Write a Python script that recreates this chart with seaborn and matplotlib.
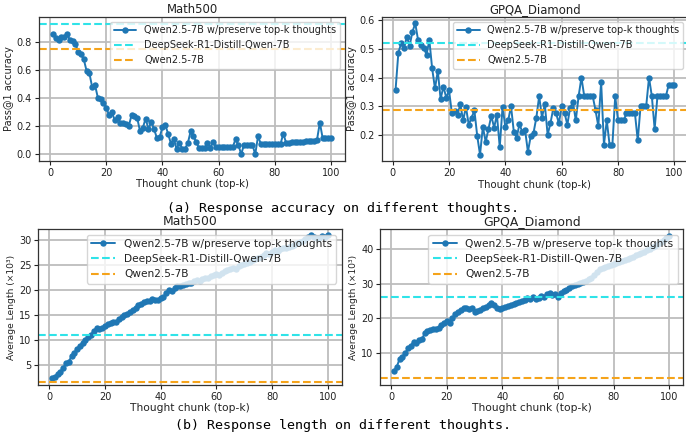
import numpy as np
import matplotlib
matplotlib.use("Agg")
import matplotlib.pyplot as plt
import seaborn as sns

# thought chunk (top-k)
k = list(range(1, 101))

acc_math = [0.857, 0.833, 0.817, 0.84, 0.84, 0.86, 0.82, 0.81, 0.79, 0.733,
            0.714, 0.678, 0.595, 0.578, 0.478, 0.494, 0.404, 0.394, 0.37, 0.332,
            0.28, 0.30, 0.244, 0.267, 0.224, 0.224, 0.217, 0.203, 0.28, 0.275,
            0.26, 0.165, 0.19, 0.255, 0.18, 0.232, 0.18, 0.117, 0.122, 0.196,
            0.21, 0.146, 0.076, 0.112, 0.04, 0.083, 0.04, 0.04, 0.078, 0.163,
            0.129, 0.088, 0.045, 0.045, 0.045, 0.084, 0.048, 0.088, 0.053, 0.053,
            0.053, 0.053, 0.053, 0.053, 0.053, 0.107, 0.068, 0.0, 0.068, 0.068,
            0.068, 0.068, 0.0, 0.129, 0.074, 0.074, 0.074, 0.074, 0.074, 0.074,
            0.074, 0.074, 0.148, 0.081, 0.081, 0.088, 0.088, 0.088, 0.088, 0.088,
            0.095, 0.095, 0.095, 0.095, 0.105, 0.227, 0.115, 0.115, 0.115, 0.115]

acc_gpqa = [0.356, 0.487, 0.52, 0.502, 0.543, 0.511, 0.56, 0.59, 0.531, 0.514,
            0.505, 0.48, 0.531, 0.432, 0.362, 0.423, 0.325, 0.368, 0.33, 0.355,
            0.275, 0.284, 0.269, 0.307, 0.25, 0.297, 0.234, 0.26, 0.285, 0.196,
            0.13, 0.228, 0.175, 0.22, 0.266, 0.225, 0.27, 0.156, 0.298, 0.226,
            0.25, 0.30, 0.21, 0.19, 0.237, 0.21, 0.216, 0.14, 0.195, 0.207,
            0.26, 0.335, 0.26, 0.307, 0.20, 0.24, 0.292, 0.275, 0.24, 0.30,
            0.277, 0.235, 0.295, 0.313, 0.25, 0.335, 0.40, 0.335, 0.335, 0.335,
            0.335, 0.286, 0.23, 0.385, 0.165, 0.25, 0.165, 0.165, 0.335, 0.25,
            0.25, 0.25, 0.275, 0.275, 0.275, 0.275, 0.18, 0.30, 0.30, 0.30,
            0.40, 0.335, 0.22, 0.335, 0.335, 0.335, 0.335, 0.375, 0.375, 0.375]

len_math = [2.25, 2.6, 3.1, 3.6, 4.3, 5.3, 5.6, 6.7, 7.3, 8.2,
            8.8, 9.4, 10.0, 10.6, 11.0, 11.8, 12.3, 12.2, 12.3, 12.8,
            13.2, 13.4, 13.5, 13.6, 14.1, 14.5, 15.0, 15.2, 15.5, 16.0,
            16.3, 17.0, 17.2, 17.5, 17.7, 17.7, 18.1, 17.9, 18.0, 18.3,
            18.5, 19.3, 19.9, 19.7, 20.4, 20.8, 20.8, 21.0, 21.2, 21.5,
            21.4, 21.8, 22.0, 21.9, 22.3, 22.5, 22.4, 22.8, 23.0, 23.2,
            23.1, 23.5, 23.8, 24.0, 24.2, 24.4, 24.3, 24.8, 25.0, 25.3,
            25.5, 25.7, 26.0, 26.2, 26.5, 26.7, 27.1, 27.4, 27.3, 27.7,
            28.0, 27.9, 28.2, 28.4, 28.5, 28.7, 28.9, 29.1, 29.4, 29.7,
            29.8, 30.2, 30.6, 31.0, 30.6, 30.4, 30.5, 30.8, 30.7, 31.0]

len_gpqa = [5.0, 6.2, 8.4, 9.0, 10.0, 11.4, 12.1, 13.3, 13.0, 13.8,
            14.0, 15.7, 16.5, 16.7, 16.9, 17.1, 17.3, 18.1, 18.8, 19.3,
            18.8, 20.0, 21.2, 21.9, 22.4, 22.9, 22.9, 22.6, 22.9, 21.9,
            22.2, 22.4, 23.1, 23.3, 23.8, 24.3, 23.8, 23.1, 22.8, 23.0,
            23.4, 23.7, 24.0, 24.2, 24.5, 24.7, 25.0, 25.2, 25.9, 25.6,
            26.1, 25.5, 25.9, 26.4, 26.2, 26.9, 27.4, 26.6, 26.9, 26.1,
            27.4, 27.8, 28.2, 28.8, 29.2, 29.6, 30.0, 30.3, 30.5, 30.9,
            31.3, 31.7, 32.4, 33.3, 34.2, 34.5, 34.8, 35.2, 35.4, 35.7,
            35.9, 36.2, 36.6, 36.8, 37.1, 37.3, 37.6, 38.1, 38.5, 38.8,
            39.2, 39.6, 40.0, 40.4, 40.9, 41.3, 41.9, 42.6, 43.2, 43.8]

# baselines: (DeepSeek-R1-Distill-Qwen-7B, Qwen2.5-7B)
base_acc_math = (0.935, 0.75)
base_acc_gpqa = (0.52, 0.287)
base_len_math = (11.0, 1.6)
base_len_gpqa = (26.2, 2.9)

lbl_main = "Qwen2.5-7B w/preserve top-k thoughts"
lbl_ds = "DeepSeek-R1-Distill-Qwen-7B"
lbl_qw = "Qwen2.5-7B"

sns.set_theme(style="whitegrid", rc={
    "axes.edgecolor": "#333333",
    "axes.linewidth": 0.9,
    "grid.color": "#bdbdbd",
    "grid.linewidth": 1.3,
    "xtick.bottom": True,
    "ytick.left": True,
    "xtick.major.size": 3,
    "ytick.major.size": 3,
    "xtick.color": "#222222",
    "ytick.color": "#222222",
    "axes.labelcolor": "#222222",
    "text.color": "#222222",
})
plt.rcParams["font.family"] = ["DejaVu Sans"]

W, H = 686, 436
fig = plt.figure(figsize=(W / 100, H / 100), dpi=100)


def box(l, t, r, b):
    return [l / W, 1 - b / H, (r - l) / W, (b - t) / H]


def panel(rect, y, base, title, ylabel, ylim, top_row):
    ax = fig.add_axes(rect)
    fs_leg = 7.0 if top_row else 7.6
    fs_title = 8.4 if top_row else 8.9
    fs_x = 7.3 if top_row else 7.7
    fs_y = 7.0 if top_row else 6.6
    sns.lineplot(x=k, y=y, ax=ax, marker="o", markersize=4.6, markeredgewidth=0,
                 color="#1f77b4", linewidth=1.4, label=lbl_main)
    ax.axhline(base[0], color="#2fe3e8", linestyle="--", linewidth=1.5, label=lbl_ds)
    ax.axhline(base[1], color="#f5a31a", linestyle="--", linewidth=1.5, label=lbl_qw)
    ax.set_xlim(-3.95, 104.95)
    ax.set_ylim(*ylim)
    ax.set_xticks([0, 20, 40, 60, 80, 100])
    ax.set_title(title, fontsize=fs_title, pad=3)
    ax.set_xlabel("Thought chunk (top-k)", fontsize=fs_x, labelpad=1)
    ax.set_ylabel(ylabel, fontsize=fs_y, labelpad=2)
    ax.tick_params(labelsize=7.0, pad=2, width=0.8)
    ax.legend(loc="upper right", fontsize=fs_leg, framealpha=0.8,
              edgecolor="#cccccc", fancybox=True, borderaxespad=0.5,
              handlelength=2.3)
    return ax


panel(box(39, 16.7, 345, 161), acc_math, base_acc_math, "Math500",
      "Pass@1 accuracy", (-0.048, 0.984), True)
panel(box(381.6, 16.7, 688.3, 161.3), acc_gpqa, base_acc_gpqa, "GPQA_Diamond",
      "Pass@1 accuracy", (0.107, 0.613), True)
panel(box(38.3, 229.3, 341.5, 385), len_math, base_len_math, "Math500",
      "Average Length (×10³)", (0.9, 32.2), False)
panel(box(380.3, 229.3, 683, 385), len_gpqa, base_len_gpqa, "GPQA_Diamond",
      "Average Length (×10³)", (0.9, 45.6), False)

fig.text(0.5, 1 - 208 / H, "(a) Response accuracy on different thoughts.",
         ha="center", va="center", family="DejaVu Sans Mono", fontsize=9.6, color="black")
fig.text(0.5, 1 - 425 / H, "(b) Response length on different thoughts.",
         ha="center", va="center", family="DejaVu Sans Mono", fontsize=9.6, color="black")

fig.savefig("out.png", dpi=100)
